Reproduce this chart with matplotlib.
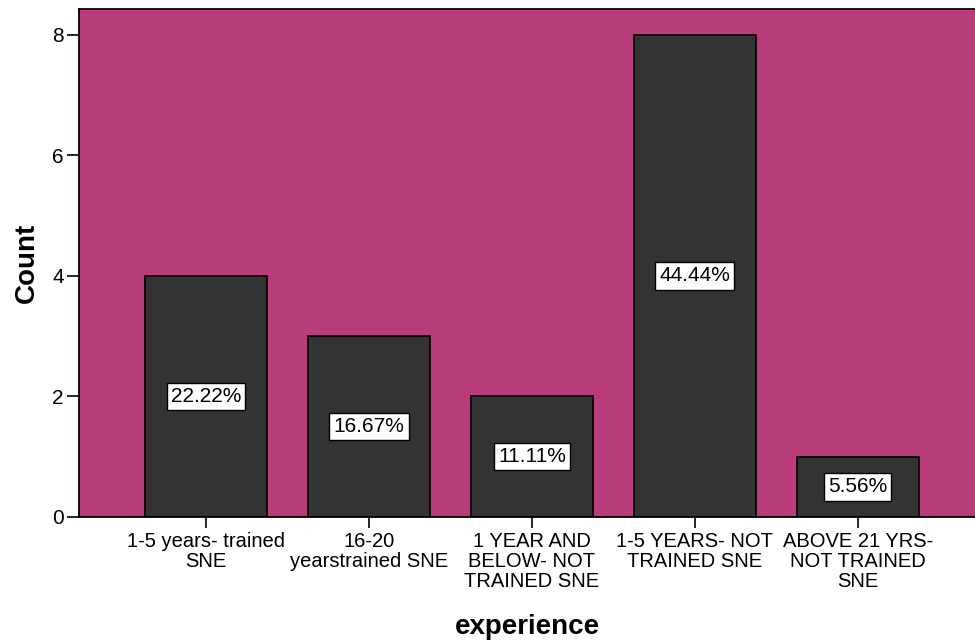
import matplotlib.pyplot as plt

plt.rcParams['font.family'] = ['Liberation Sans', 'DejaVu Sans']

# experience groups and counts
categories = ["1-5 years- trained\nSNE", "16-20\nyearstrained SNE",
              "1 YEAR AND\nBELOW- NOT\nTRAINED SNE", "1-5 YEARS- NOT\nTRAINED SNE",
              "ABOVE 21 YRS-\nNOT TRAINED\nSNE"]
counts = [4, 3, 2, 8, 1]
percents = ["22.22%", "16.67%", "11.11%", "44.44%", "5.56%"]

fig = plt.figure(figsize=(9.75, 6.43), dpi=100)
ax = fig.add_axes([0.081, 0.196, 0.919, 0.790])
ax.set_facecolor('#B93D7B')

x = range(len(categories))
ax.bar(x, counts, width=0.75, color='#333333', edgecolor='black', linewidth=1.2, zorder=2)

# percentage labels in the middle of each bar
for i, (c, p) in enumerate(zip(counts, percents)):
    ax.text(i, c / 2, p, ha='center', va='center', fontsize=15, zorder=3,
            bbox=dict(boxstyle='square,pad=0.2', facecolor='white', edgecolor='black', linewidth=1))

ax.set_xlim(-0.78, 4.72)
ax.set_ylim(0, 8.43)
ax.set_yticks([0, 2, 4, 6, 8])
ax.set_xticks(list(x))
ax.set_xticklabels(categories, fontsize=14.5, linespacing=1.05)
ax.tick_params(axis='y', labelsize=15, length=9, width=1.2, pad=2)
ax.tick_params(axis='x', length=8, width=1.2, pad=3)

for side in ['left', 'bottom', 'top']:
    ax.spines[side].set_linewidth(1.3)
ax.spines['right'].set_visible(False)

ax.set_ylabel("Count", fontsize=20, fontweight='bold', labelpad=9)
ax.set_xlabel("experience", fontsize=20, fontweight='bold', labelpad=17)

fig.savefig("out.png", dpi=100)
